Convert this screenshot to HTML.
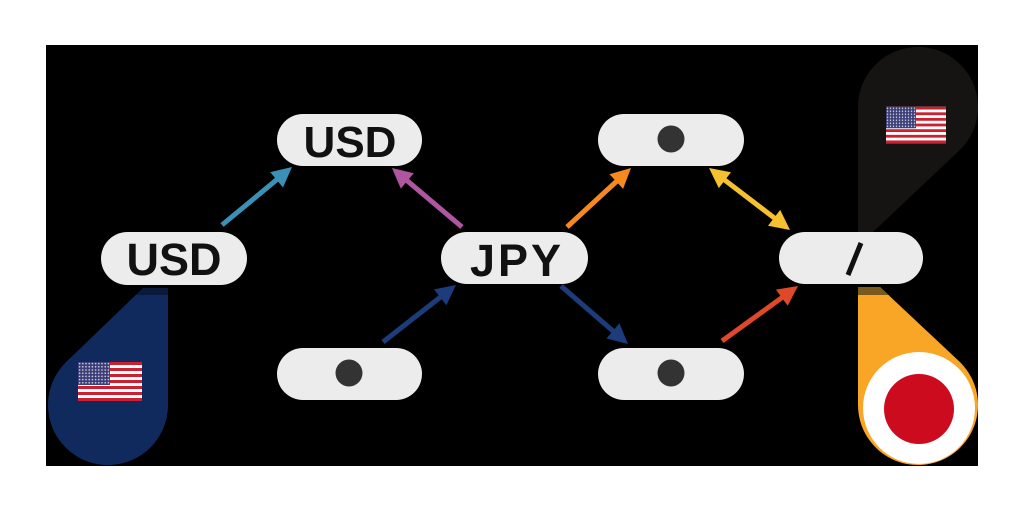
<!DOCTYPE html>
<html><head><meta charset="utf-8"><style>
html,body{margin:0;padding:0;background:#fff;}
svg{display:block;}
text{font-family:"Liberation Sans",Arial,sans-serif;font-weight:bold;fill:#111;}
</style></head><body>
<svg width="1024" height="512" viewBox="0 0 1024 512" xmlns="http://www.w3.org/2000/svg">
<defs>
<pattern id="stars" width="3.2" height="3.2" patternUnits="userSpaceOnUse">
<rect width="3.2" height="3.2" fill="#3c3e78"/>
<circle cx="1.6" cy="1.6" r="0.8" fill="#d8dae8"/>
</pattern>
<symbol id="flag" viewBox="0 0 64 39">
<rect width="64" height="39" fill="#fff"/>
<rect y="0" width="64" height="3" fill="#cc1f2f"/>
<rect y="6" width="64" height="3" fill="#cc1f2f"/>
<rect y="12" width="64" height="3" fill="#cc1f2f"/>
<rect y="18" width="64" height="3" fill="#cc1f2f"/>
<rect y="24" width="64" height="3" fill="#cc1f2f"/>
<rect y="30" width="64" height="3" fill="#cc1f2f"/>
<rect y="36" width="64" height="3" fill="#cc1f2f"/>
<rect width="32" height="23" fill="url(#stars)"/>
</symbol>
</defs>
<rect x="0" y="0" width="1024" height="512" fill="#fff"/>
<rect x="46" y="45" width="932" height="421" fill="#000"/>

<!-- left navy teardrop -->
<path d="M143,288 L168,288 L168,405 A60,60 0 1 1 66.4,361.8 Z" fill="#102a5e"/>
<polygon points="143,288 168,288 168,295 135.7,295" fill="#0a1a3a"/>
<use href="#flag" x="78" y="362" width="64" height="39"/>

<!-- top-right dark teardrop -->
<path d="M858,107 A60,60 0 1 1 959.2,150.6 L873,232 L858,232 Z" fill="#161412"/>
<use href="#flag" x="886" y="105" width="60" height="40"/>

<!-- bottom-right orange teardrop -->
<path d="M858,287 L880,287 L959.1,361.3 A60,60 0 1 1 858,405 Z" fill="#f9a526"/>
<polygon points="858,287 880,287 888.6,295 858,295" fill="#7a5a1c"/>
<circle cx="919" cy="408" r="56" fill="#fff"/>
<circle cx="919" cy="409" r="35" fill="#cc0c1e"/>

<!-- arrows -->
<g stroke-width="5" stroke-linecap="butt">
<line x1="222" y1="225" x2="282.8" y2="174.7" stroke="#3b90b5"/>
<polygon points="292,167 283,187.5 270.2,172.1" fill="#3b90b5"/>

<line x1="462" y1="227" x2="401.2" y2="175.7" stroke="#b0559f"/>
<polygon points="392,168 413.8,173.2 400.8,188.6" fill="#b0559f"/>

<line x1="383" y1="342" x2="446.5" y2="292.4" stroke="#1d3c7c"/>
<polygon points="456,285 446.4,305.2 434,289.4" fill="#1d3c7c"/>

<line x1="567" y1="227" x2="622.2" y2="176.1" stroke="#f5891f"/>
<polygon points="631,168 623.1,188.9 609.5,174.2" fill="#f5891f"/>

<line x1="561" y1="286" x2="618.9" y2="336.1" stroke="#1d3c7c"/>
<polygon points="628,344 606.4,338.5 619.4,323.3" fill="#1d3c7c"/>

<line x1="718.5" y1="175.3" x2="780.5" y2="222.7" stroke="#f6c12f"/>
<polygon points="790,230 768,225.7 780.2,209.9" fill="#f6c12f"/>
<polygon points="709,168 718.8,188.1 731,172.3" fill="#f6c12f"/>

<line x1="722" y1="341" x2="788.3" y2="293" stroke="#e0482a"/>
<polygon points="798,286 787.7,305.8 775.9,289.6" fill="#e0482a"/>
</g>

<!-- pills -->
<g fill="#ececec">
<rect x="101" y="232" width="146" height="53" rx="26.5"/>
<rect x="277" y="114" width="145" height="52" rx="26"/>
<rect x="441" y="232" width="147" height="52" rx="26"/>
<rect x="277" y="348" width="145" height="52" rx="26"/>
<rect x="598" y="114" width="146" height="52" rx="26"/>
<rect x="598" y="348" width="146" height="52" rx="26"/>
<rect x="779" y="232" width="144" height="52" rx="26"/>
</g>
<text x="174" y="275" font-size="45" text-anchor="middle">USD</text>
<text x="350" y="157" font-size="44" text-anchor="middle">USD</text>
<text x="517" y="276" font-size="45" text-anchor="middle" letter-spacing="3">JPY</text>
<line x1="861" y1="243" x2="848" y2="275" stroke="#111" stroke-width="5"/>
<g fill="#333">
<circle cx="349" cy="373" r="13.5"/>
<circle cx="671" cy="139" r="13.5"/>
<circle cx="671" cy="373" r="13.5"/>
</g>
</svg>
</body></html>
